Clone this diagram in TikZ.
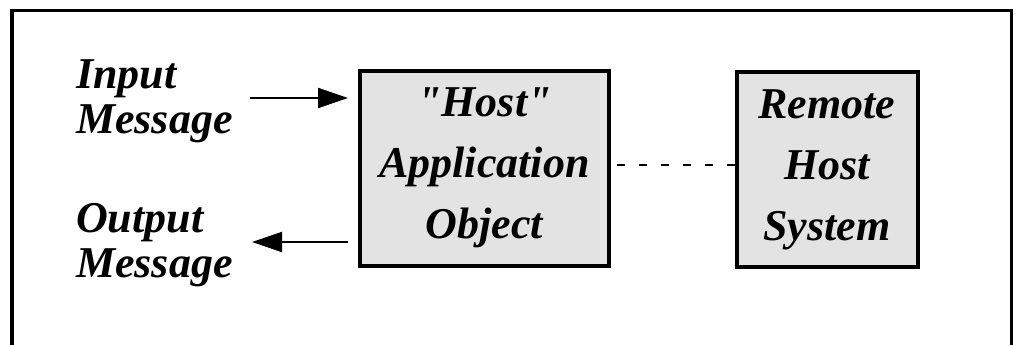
\documentclass[tikz,border=0pt]{standalone}
\usepackage{fontspec}
\setmainfont{Liberation Serif}
\usetikzlibrary{arrows.meta}

\begin{document}
\begin{tikzpicture}[x=1pt, y=-1pt,
				   every node/.style={font=\fontsize{44}{45}\selectfont\bfseries\itshape},
				   objbox/.style={draw=black, line width=4pt, fill=black!11, align=center, inner sep=0pt,
				                  minimum height=195pt, font=\fontsize{44}{61}\selectfont\bfseries\itshape},
				   msg/.style={anchor=north west, align=left, inner sep=0pt},
				   flow/.style={line width=2pt, -{Triangle[length=30pt, width=20pt]}}]
\useasboundingbox (0,0) rectangle (1016,345);
\draw[line width=3.5pt] (12,345) -- (12,10.5) -- (1011.5,10.5) -- (1011.5,345);
\node[objbox, minimum width=249pt] (host) at (484.5,168) {\textquotedbl Host\textquotedbl\\Application\\Object};
\node[objbox, minimum width=181pt] (remote) at (827,169.5) {Remote\\Host\\System};
\node[msg] (input) at (76,59) {Input\\Message};
\node[msg] (output) at (76,203) {Output\\Message};
\coordinate (infrom) at (250,98);
\coordinate (outto) at (252,242);
\draw[flow, shorten >=10pt] (infrom) -- (infrom -| host.west);
\draw[flow, shorten <=10pt] (outto -| host.west) -- (outto);
\draw[line width=2pt, dash pattern=on 8pt off 14pt, dash phase=-6pt] (host.east |- 0,165) -- (remote.west |- 0,165);
\end{tikzpicture}
\end{document}
